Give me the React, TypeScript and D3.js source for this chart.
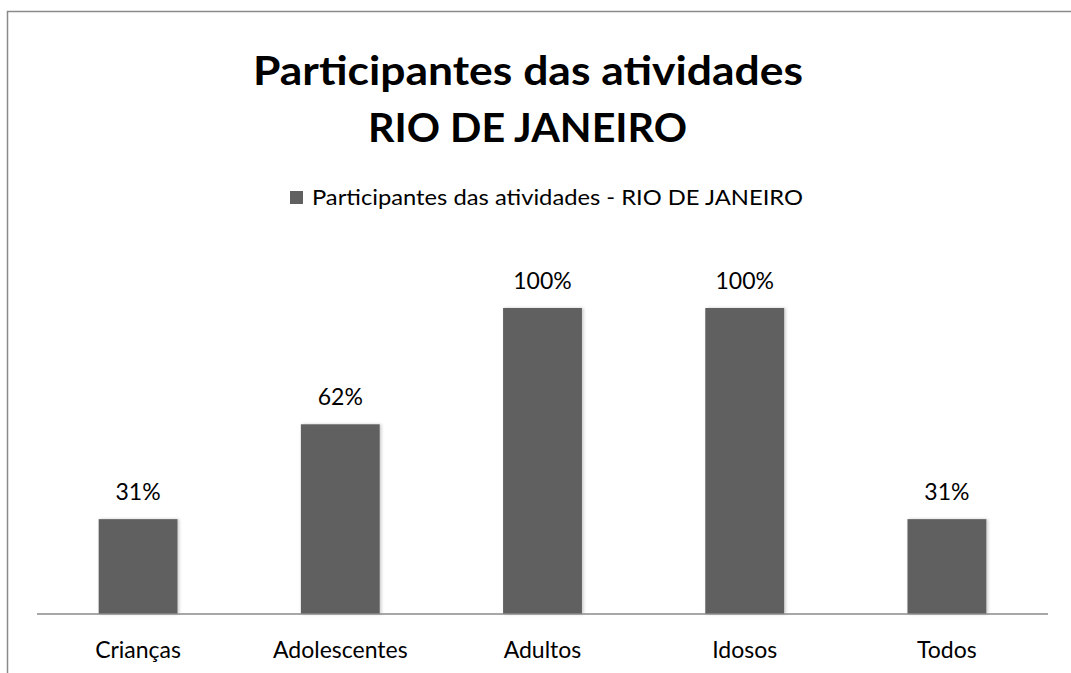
import React from "react";
import * as d3 from "d3";

const categories = ["Crianças", "Adolescentes", "Adultos", "Idosos", "Todos"];
const values = [0.31, 0.62, 1.0, 1.0, 0.31];
const valueLabels = ["31%", "62%", "100%", "100%", "31%"];
const titleLines = ["Participantes das atividades", "RIO DE JANEIRO"];
const legendLabel = "Participantes das atividades - RIO DE JANEIRO";

const W = 1071;
const H = 673;
const FONT = "Lato, 'Open Sans', sans-serif";

export default function App() {
  const left = 37;
  const right = 1048;
  const baseY = 614;
  const top = baseY - 306 * 1.2;

  const x = d3
    .scaleBand<string>()
    .domain(categories)
    .range([left, right])
    .paddingInner(0.61)
    .paddingOuter(0.305);
  const y = d3.scaleLinear().domain([0, 1.2]).range([baseY, top]);

  return (
    <svg
      width={W}
      height={H}
      style={{ position: "absolute", left: 0, top: 0, background: "#fff" }}
    >
      <defs>
        <filter id="sh" x="-20%" y="-20%" width="140%" height="140%">
          <feDropShadow dx="1.5" dy="0" stdDeviation="1.5" floodColor="#b0b0b0" floodOpacity="0.7" />
        </filter>
      </defs>
      <rect x={0} y={0} width={W} height={H} fill="#fff" />
      {/* chart border */}
      <path d={`M7.5,${H + 2} L7.5,11.5 L${W + 2},11.5`} fill="none" stroke="#8a8a8a" strokeWidth={1.5} />

      {/* title */}
      <text
        x={528}
        y={85}
        textAnchor="middle"
        fontFamily={FONT}
        fontWeight={700}
        fontSize={40}
        textLength={550}
        lengthAdjust="spacingAndGlyphs"
        fill="#000"
      >
        {titleLines[0]}
      </text>
      <text
        x={527.5}
        y={142}
        textAnchor="middle"
        fontFamily={FONT}
        fontWeight={700}
        fontSize={40}
        textLength={319}
        lengthAdjust="spacingAndGlyphs"
        fill="#000"
      >
        {titleLines[1]}
      </text>

      {/* legend */}
      <rect x={290} y={191} width={13} height={13} fill="#606060" />
      <text
        x={312}
        y={205}
        fontFamily={FONT}
        fontSize={22}
        textLength={491}
        lengthAdjust="spacingAndGlyphs"
        fill="#000"
      >
        {legendLabel}
      </text>

      {/* bars */}
      {categories.map((c, i) => (
        <g key={c}>
          <rect
            x={x(c)!}
            y={y(values[i])}
            width={x.bandwidth()}
            height={baseY - y(values[i])}
            fill="#606060"
            filter="url(#sh)"
          />
          <text
            x={x(c)! + x.bandwidth() / 2}
            y={y(values[i]) - 19}
            textAnchor="middle"
            fontFamily={FONT}
            fontSize={23}
            fill="#000"
          >
            {valueLabels[i]}
          </text>
          <text
            x={x(c)! + x.bandwidth() / 2}
            y={658}
            textAnchor="middle"
            fontFamily={FONT}
            fontSize={23}
            fill="#000"
          >
            {c}
          </text>
        </g>
      ))}

      {/* axis */}
      <line x1={left} x2={right} y1={baseY} y2={baseY} stroke="#8a8a8a" strokeWidth={1.5} />
    </svg>
  );
}
